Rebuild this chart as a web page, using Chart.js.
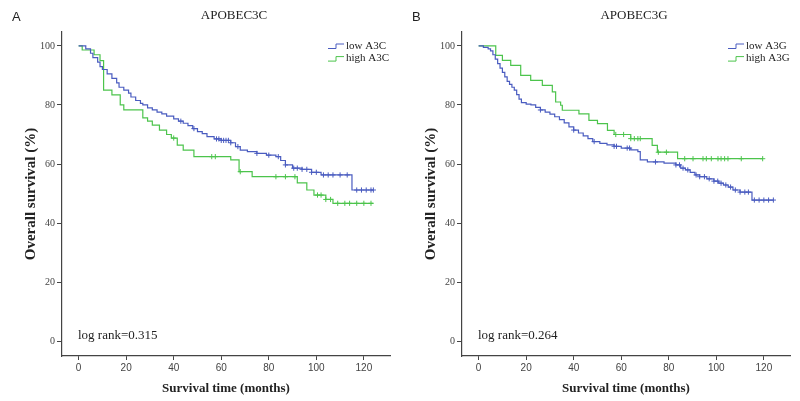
<!DOCTYPE html>
<html>
<head>
<meta charset="utf-8">
<script src="https://cdn.jsdelivr.net/npm/chart.js@4/dist/chart.umd.min.js"></script>
<style>
  body { margin: 0; background: #fff; }
  #wrap { display: flex; width: 800px; height: 401px; }
  canvas { display: block; }
</style>
</head>
<body>
<div id="wrap">
  <canvas id="chartA" width="400" height="401"></canvas>
  <canvas id="chartB" width="400" height="401"></canvas>
</div>
<script>
// ---- data (months, % surviving) ----
const xTicks = [0, 20, 40, 60, 80, 100, 120];
const yTicks = [0, 20, 40, 60, 80, 100];

// Panel A : APOBEC3C
const a3cLowTime = [0, 3, 5, 6, 8, 9, 10, 12, 14, 16, 17, 19, 21, 22, 24, 26, 27, 29, 31, 33, 35, 37, 40, 42, 44, 46, 48, 50, 52, 54, 57, 60, 64, 66, 68, 71, 75, 79, 83, 85, 87, 90, 94, 98, 102, 115, 124];
const a3cLowSurv = [100, 99, 97.5, 96, 94.5, 93, 92, 90.5, 89, 87.5, 86, 85, 84, 82.7, 81.5, 80.5, 80, 79, 78.3, 77.6, 77, 76.2, 75.3, 74.5, 73.8, 73, 72, 71, 70.3, 69.3, 68.5, 68, 67.2, 65.9, 64.7, 64.2, 63.6, 63, 62.5, 61.2, 59.7, 58.6, 58.2, 57.2, 56.3, 51.2, 51.2];
const a3cLowCensor = [43, 48.5, 58, 59, 60, 61, 62, 63, 64, 67, 75, 80, 84, 87, 90.5, 92, 94, 96, 98, 100, 103, 105, 107, 110, 113, 117, 119, 121, 123, 124];

const a3cHighTime = [0, 1.5, 6.5, 9, 10.5, 14, 17.5, 19, 27, 29, 31, 34, 37, 39, 41.5, 44, 48.5, 64, 67.5, 73, 92, 96, 99, 104, 107, 124];
const a3cHighSurv = [100, 98.6, 97, 95, 85, 83.4, 80, 78.3, 75.6, 74.5, 73.2, 71.5, 70, 68.8, 66.4, 64.7, 62.5, 61.4, 57.4, 55.7, 53.6, 51.2, 49.5, 48, 46.7, 46.7];
const a3cHighCensor = [40, 56, 57.5, 68, 83, 87, 91, 100.5, 102, 104, 106, 109, 112, 114, 117, 120, 123];

// Panel B : APOBEC3G
const a3gLowTime = [0, 2, 4, 5, 6, 7, 8, 9, 10, 11, 12, 13, 14, 15, 16, 17, 18, 20, 22, 24, 26, 28, 30, 32, 34, 36, 38, 40, 42, 44, 46, 48, 51, 54, 57, 60, 64, 67, 68, 71, 78, 83, 85, 87, 89, 91, 93, 96, 99, 101, 103, 105, 107, 110, 115, 124];
const a3gLowSurv = [100, 99.5, 99, 98.3, 97, 95.5, 94, 92.5, 91, 89.5, 88, 87, 86, 85, 83.5, 82, 80.8, 80.3, 80, 79.2, 78.3, 77.6, 76.9, 76, 75, 73.9, 72.6, 71.5, 70.5, 69.5, 68.6, 67.6, 67, 66.5, 66, 65.4, 64.8, 64.2, 61.4, 60.7, 60.3, 59.7, 58.6, 58, 57.2, 56.3, 55.7, 55, 54.2, 53.5, 52.9, 52.2, 51.2, 50.5, 47.8, 47.8];
const a3gLowCensor = [26, 40, 48.6, 57, 58, 62.5, 63.5, 74.4, 83, 84.5, 86, 88, 91.5, 93, 95, 97, 99, 100.6, 102, 104, 106, 108, 110, 112, 113.5, 116, 118, 120, 122, 124];

const a3gHighTime = [0, 7.2, 10, 13.5, 17.7, 21.9, 26.8, 31, 32.4, 34.5, 35.2, 42.2, 46.4, 50, 54.2, 57, 64, 73, 75.2, 83.7, 119.5];
const a3gHighSurv = [100, 96.8, 95.1, 93.4, 90, 88.3, 86.6, 84.4, 81, 79.9, 78.2, 77, 74.8, 73.7, 71.4, 70, 68.6, 66.3, 64, 61.8, 61.8];
const a3gHighCensor = [57.7, 61, 64, 65.5, 67, 68, 75.6, 79, 86.7, 90.2, 94.4, 95.8, 97.9, 100.7, 102, 103.5, 104.9, 110.5, 119.5];

const blue = '#4a5cc0';
const green = '#4cc44c';

// survival value of a step curve at time t
function survAt(times, surv, t) {
  let s = surv[0];
  for (let i = 0; i < times.length; i++) {
    if (times[i] <= t) s = surv[i];
  }
  return s;
}

function curve(times, surv) {
  return times.map((t, i) => ({x: t, y: surv[i]}));
}

function censors(times, surv, cens) {
  return cens.map(t => ({x: t, y: survAt(times, surv, t)}));
}

const panelText = {
  id: 'panelText',
  afterDraw(chart) {
    const o = chart.options.plugins.panelText;
    const ctx = chart.ctx;
    ctx.save();
    ctx.fillStyle = '#222';
    ctx.font = '13px "Liberation Sans", Arial, sans-serif';
    ctx.textAlign = 'left';
    ctx.textBaseline = 'alphabetic';
    ctx.fillText(o.letter, 12, 21);

    ctx.font = '13px "Liberation Serif", "Times New Roman", serif';
    ctx.textAlign = 'center';
    ctx.fillText(o.title, 234, 19);

    // legend with step symbols
    ctx.font = '11px "Liberation Serif", "Times New Roman", serif';
    ctx.textAlign = 'left';
    ctx.textBaseline = 'middle';
    chart.data.datasets.slice(0, 2).forEach((ds, i) => {
      const y = 46 + i * 12.6;
      ctx.strokeStyle = ds.borderColor;
      ctx.lineWidth = 1;
      ctx.beginPath();
      ctx.moveTo(328, y + 2.5);
      ctx.lineTo(336, y + 2.5);
      ctx.lineTo(336, y - 2);
      ctx.lineTo(344, y - 2);
      ctx.stroke();
      ctx.fillStyle = '#222';
      ctx.fillText(ds.label, 346, y);
    });

    ctx.font = '13px "Liberation Serif", "Times New Roman", serif';
    ctx.fillText(o.logRank, 78, 336);
    ctx.restore();
  }
};

function makePanel(id, letter, title, logRank, low, high) {
  const [lowLabel, lowT, lowS, lowC] = low;
  const [highLabel, highT, highS, highC] = high;
  return new Chart(document.getElementById(id), {
    type: 'line',
    data: {
      datasets: [
        {label: lowLabel, data: curve(lowT, lowS), borderColor: blue, borderWidth: 1.2, stepped: 'before', pointRadius: 0, fill: false},
        {label: highLabel, data: curve(highT, highS), borderColor: green, borderWidth: 1.2, stepped: 'before', pointRadius: 0, fill: false},
        {type: 'scatter', data: censors(lowT, lowS, lowC), borderColor: blue, pointStyle: 'cross', pointRadius: 2.6, pointBorderWidth: 1, showLine: false},
        {type: 'scatter', data: censors(highT, highS, highC), borderColor: green, pointStyle: 'cross', pointRadius: 2.6, pointBorderWidth: 1, showLine: false}
      ]
    },
    options: {
      responsive: false,
      animation: false,
      layout: {padding: {top: 32, right: 10, left: 0, bottom: 0}},
      plugins: {
        legend: {display: false},
        tooltip: {enabled: false},
        panelText: {letter: letter, title: title, logRank: logRank}
      },
      scales: {
        x: {
          type: 'linear',
          min: -7,
          max: 131,
          afterBuildTicks: s => { s.ticks = xTicks.map(v => ({value: v})); },
          afterFit: s => { s.height = 45; },
          ticks: {color: '#444', padding: 2, font: {family: '"Liberation Sans", Arial, sans-serif', size: 10}},
          grid: {drawOnChartArea: false, drawTicks: true, tickLength: 4, color: '#444'},
          border: {color: '#444', width: 1.2},
          title: {display: true, text: 'Survival time (months)', color: '#222', padding: {top: 0, bottom: 5},
                  font: {family: '"Liberation Serif", "Times New Roman", serif', size: 13, weight: 'bold'}}
        },
        y: {
          min: -5,
          max: 104.7,
          afterBuildTicks: s => { s.ticks = yTicks.map(v => ({value: v})); },
          afterFit: s => { s.width = 62; },
          ticks: {color: '#444', padding: 2, font: {family: '"Liberation Serif", "Times New Roman", serif', size: 10}},
          grid: {drawOnChartArea: false, drawTicks: true, tickLength: 5, color: '#444'},
          border: {color: '#444', width: 1.2},
          title: {display: true, text: 'Overall survival (%)', color: '#222', padding: {top: 22, bottom: 0},
                  font: {family: '"Liberation Serif", "Times New Roman", serif', size: 15, weight: 'bold'}}
        }
      }
    },
    plugins: [panelText]
  });
}

makePanel('chartA', 'A', 'APOBEC3C', 'log rank=0.315',
  ['low A3C', a3cLowTime, a3cLowSurv, a3cLowCensor],
  ['high A3C', a3cHighTime, a3cHighSurv, a3cHighCensor]);

makePanel('chartB', 'B', 'APOBEC3G', 'log rank=0.264',
  ['low A3G', a3gLowTime, a3gLowSurv, a3gLowCensor],
  ['high A3G', a3gHighTime, a3gHighSurv, a3gHighCensor]);
</script>
</body>
</html>
